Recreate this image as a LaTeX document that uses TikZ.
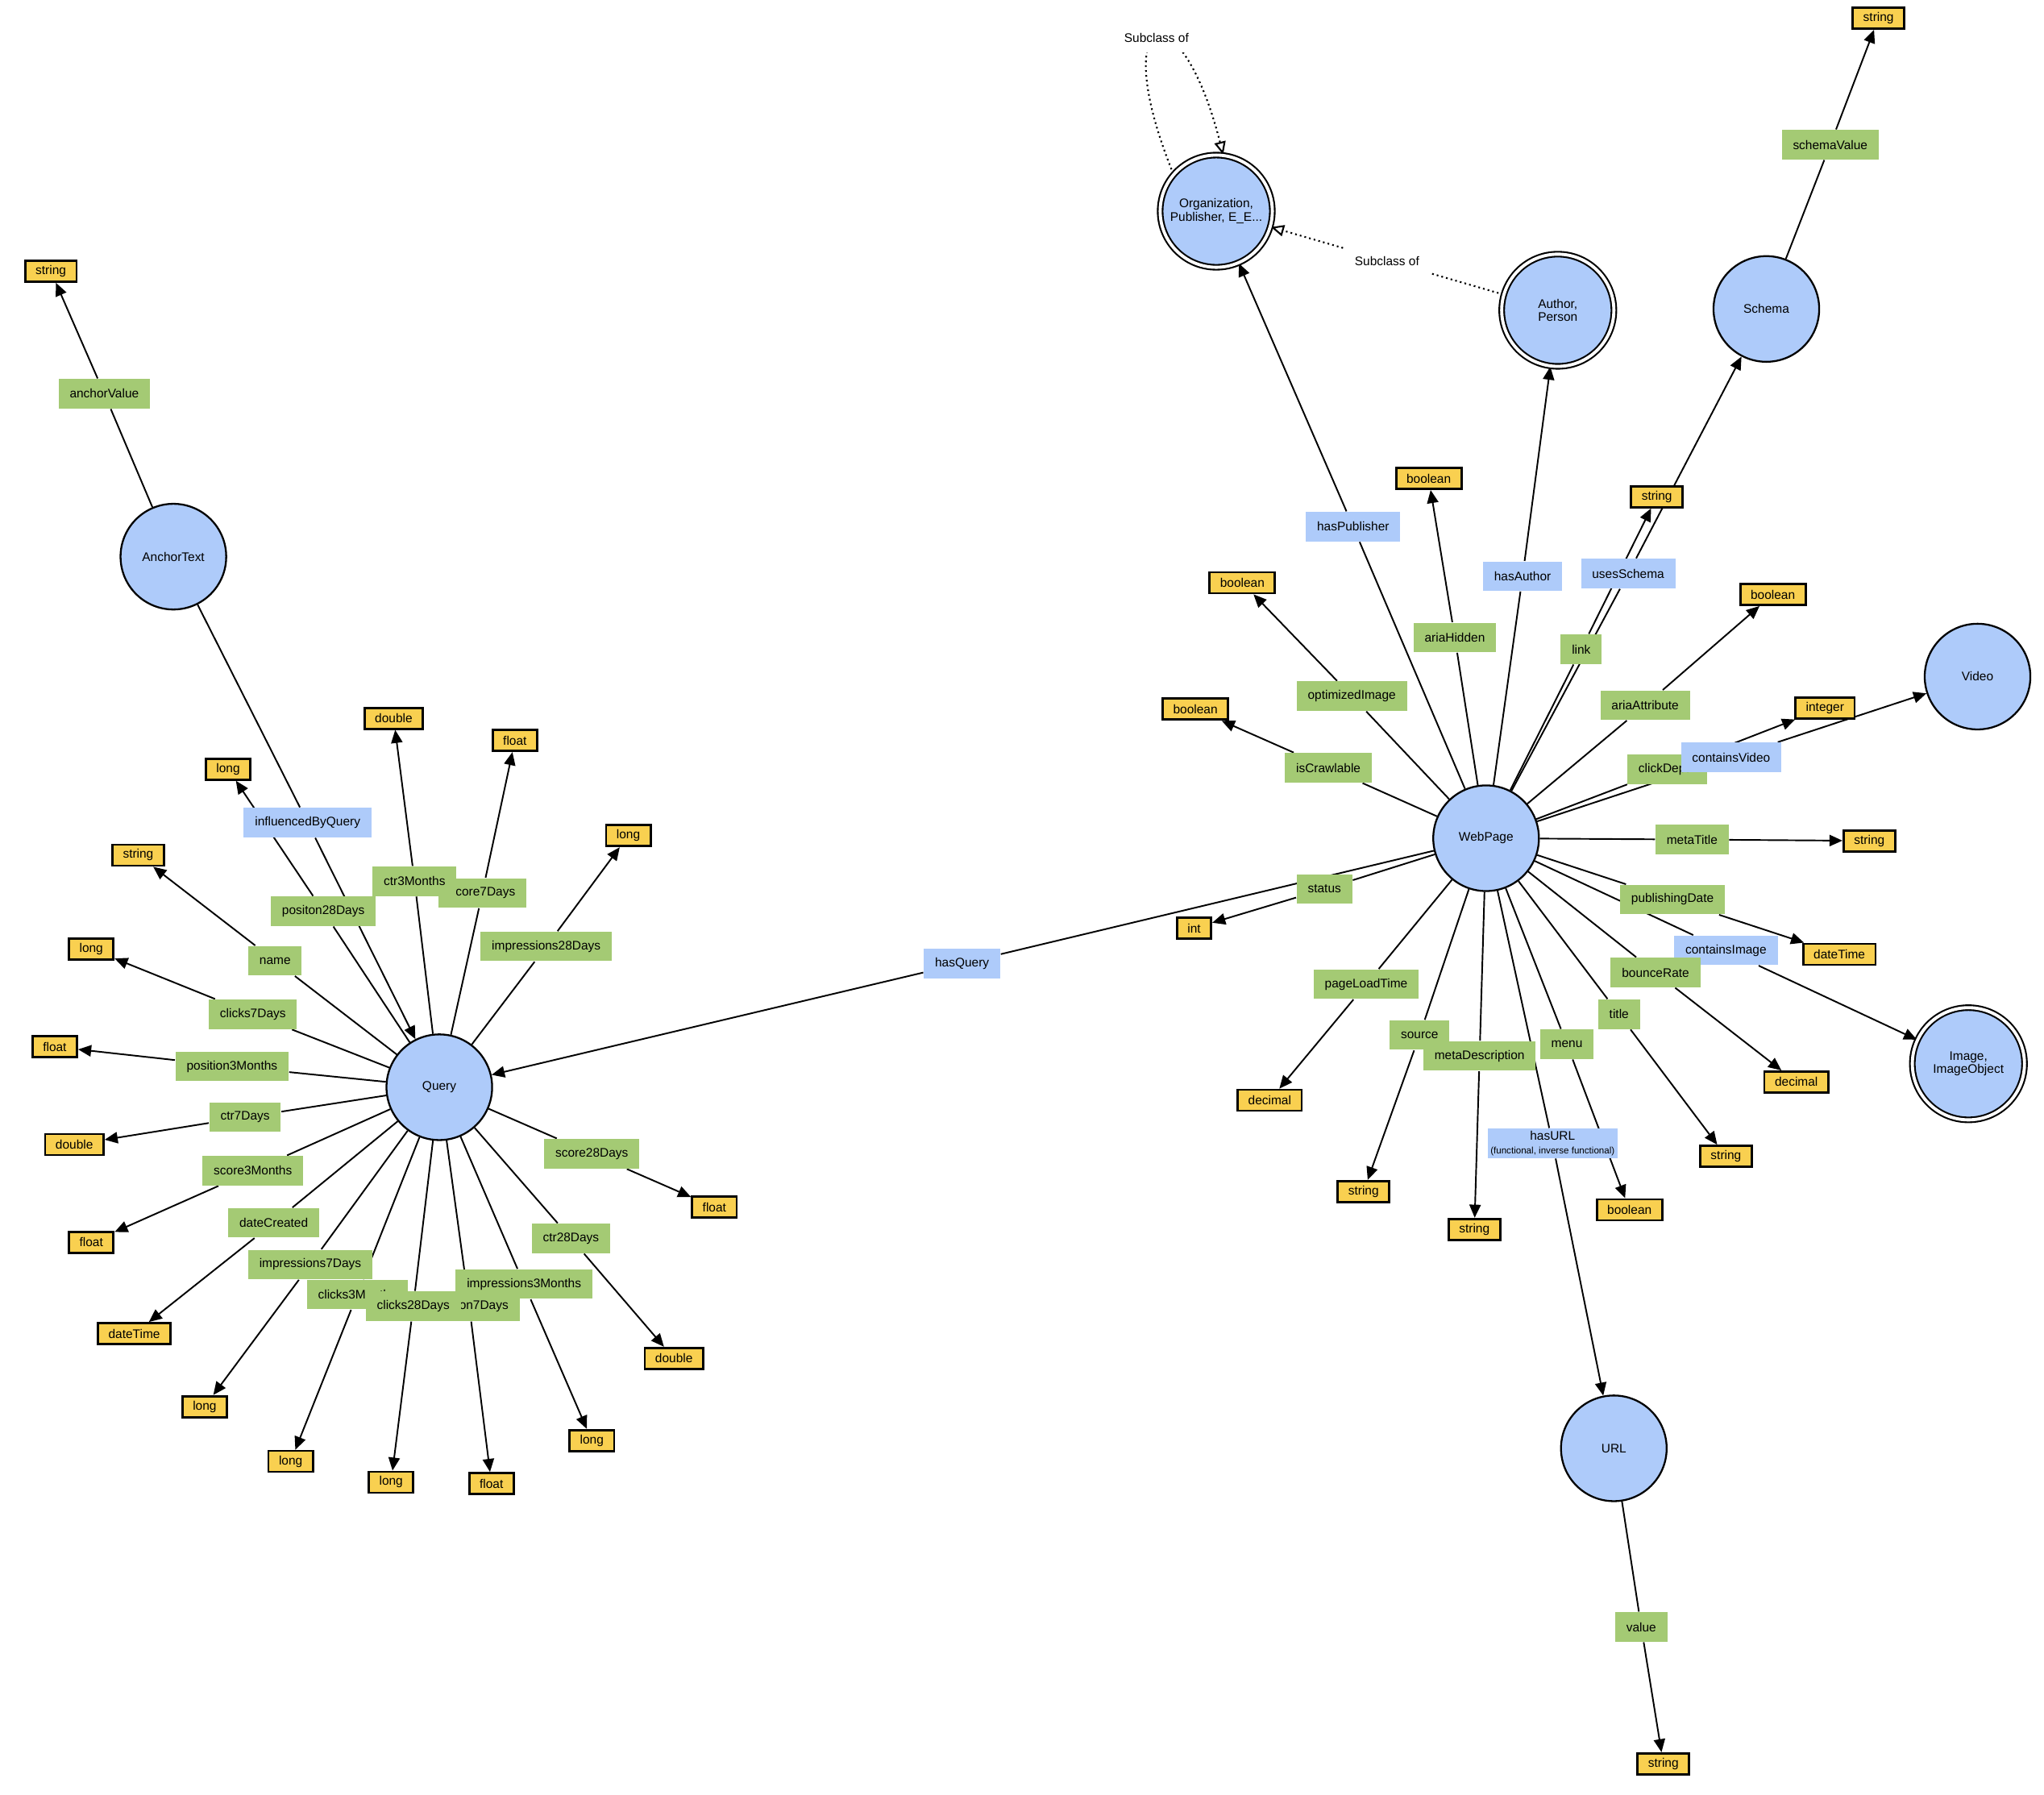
\documentclass[tikz,border=0pt]{standalone}
\usepackage{fontspec}
\setmainfont{Liberation Sans}
\usetikzlibrary{arrows.meta,backgrounds}
\definecolor{cls}{RGB}{174, 203, 250}
\definecolor{dprop}{RGB}{164, 202, 116}
\definecolor{dtype}{RGB}{249, 208, 80}

\tikzset{
  every node/.style={font=\fontsize{4.4}{4.8}\selectfont, align=center},
  classnode/.style={circle, draw=black, line width=0.65pt, fill=cls, minimum size=37.3pt, inner sep=0pt},
  eqclassnode/.style={circle, draw=black, line width=0.6pt, double=white, double distance=1.1pt, fill=cls, minimum size=39.6pt, inner sep=0pt},
  objlabel/.style={fill=cls, minimum height=10.4pt, inner xsep=3.95pt, inner ysep=0pt},
  datalabel/.style={fill=dprop, minimum height=10.4pt, inner xsep=3.95pt, inner ysep=0pt},
  dtbox/.style={draw=black, line width=0.8pt, fill=dtype, minimum height=7.4pt, inner xsep=3.7pt, inner ysep=0pt},
  subclabel/.style={fill=white, minimum height=10.4pt, inner xsep=3.95pt, inner ysep=0pt},
  propedge/.style={line width=0.55pt, -{Triangle[length=4.6pt,width=4pt]}},
  subedge/.style={line width=0.6pt, dash pattern=on 0.6pt off 1.1pt, -{Triangle[open,length=4.6pt,width=4pt]}}
}

\begin{document}
\begin{tikzpicture}[x=0.016173cm, y=-0.016173cm]
  \useasboundingbox (0,0) rectangle (1568,1376.4);

  \node[classnode] (anchortext) at (133,427) {AnchorText};
  \node[classnode] (query) at (337,834) {Query};
  \node[classnode] (webpage) at (1140,643) {WebPage};
  \node[eqclassnode] (org) at (933,162) {Organization,\\Publisher, E\_E...};
  \node[eqclassnode] (author) at (1195,238) {Author,\\Person};
  \node[classnode] (schema) at (1355,237) {Schema};
  \node[classnode] (video) at (1517,519) {Video};
  \node[eqclassnode] (image) at (1510,816) {Image,\\ImageObject};
  \node[classnode] (url) at (1238,1111) {URL};

  \node[dtbox] (tAnchor) at (39,208) {string};
  \node[dtbox] (tSchema) at (1441,14) {string};
  \node[dtbox] (tUrl) at (1276,1353) {string};

  \node[dtbox] (tPos28) at (175,590) {long};
  \node[dtbox] (tName) at (106,656) {string};
  \node[dtbox] (tClk7) at (70,728) {long};
  \node[dtbox] (tPos3m) at (42,803) {float};
  \node[dtbox] (tCtr7) at (57,878) {double};
  \node[dtbox] (tSc3m) at (70,953) {float};
  \node[dtbox] (tDate) at (103,1023) {dateTime};
  \node[dtbox] (tImp7) at (157,1079) {long};
  \node[dtbox] (tClk3m) at (223,1121) {long};
  \node[dtbox] (tClk28) at (300,1137) {long};
  \node[dtbox] (tPos7) at (377,1138) {float};
  \node[dtbox] (tImp3m) at (454,1105) {long};
  \node[dtbox] (tCtr28) at (517,1042) {double};
  \node[dtbox] (tSc28) at (548,926) {float};
  \node[dtbox] (tImp28) at (482,641) {long};
  \node[dtbox] (tCtr3m) at (302,551) {double};
  \node[dtbox] (tSc7) at (395,568) {float};

  \node[dtbox] (tHidden) at (1096,367) {boolean};
  \node[dtbox] (tLink) at (1271,381) {string};
  \node[dtbox] (tOptImg) at (953,447) {boolean};
  \node[dtbox] (tCrawl) at (917,544) {boolean};
  \node[dtbox] (tAria) at (1360,456) {boolean};
  \node[dtbox] (tDepth) at (1400,543) {integer};
  \node[dtbox] (tMetaT) at (1434,645) {string};
  \node[dtbox] (tPub) at (1411,732) {dateTime};
  \node[dtbox] (tBounce) at (1378,830) {decimal};
  \node[dtbox] (tTitle) at (1324,887) {string};
  \node[dtbox] (tMenu) at (1250,928) {boolean};
  \node[dtbox] (tMetaD) at (1131,943) {string};
  \node[dtbox] (tSource) at (1046,914) {string};
  \node[dtbox] (tLoad) at (974,844) {decimal};
  \node[dtbox] (tStatus) at (916,712) {int};

  \node[datalabel] (anchorValue) at (80,302) {anchorValue};
  \node[datalabel] (schemaValue) at (1404,111) {schemaValue};
  \node[datalabel] (value) at (1259,1248) {value};

  \node[datalabel] (pos28) at (248,699) {positon28Days};
  \node[datalabel] (name) at (211,737) {name};
  \node[datalabel] (clk7) at (194,778) {clicks7Days};
  \node[datalabel] (pos3m) at (178,818) {position3Months};
  \node[datalabel] (ctr7) at (188,857) {ctr7Days};
  \node[datalabel] (sc3m) at (194,898) {score3Months};
  \node[datalabel] (date) at (210,938) {dateCreated};
  \node[datalabel] (imp7) at (238,970) {impressions7Days};
  \node[datalabel] (clk3m) at (274,993) {clicks3Months};
  \node[datalabel] (pos7) at (360,1002) {position7Days};
  \node[datalabel] (imp3m) at (402,985) {impressions3Months};
  \node[datalabel] (clk28) at (317,1002) {clicks28Days};
  \node[datalabel] (ctr28) at (438,950) {ctr28Days};
  \node[datalabel] (sc28) at (454,885) {score28Days};
  \node[datalabel] (imp28) at (419,726) {impressions28Days};
  \node[datalabel] (sc7) at (370,685) {score7Days};
  \node[datalabel] (ctr3m) at (318,676) {ctr3Months};

  \node[datalabel] (ariaHidden) at (1116,489) {ariaHidden};
  \node[datalabel] (link) at (1213,498) {link};
  \node[datalabel] (optImg) at (1037,534) {optimizedImage};
  \node[datalabel] (crawl) at (1019,589) {isCrawlable};
  \node[datalabel] (aria) at (1262,541) {ariaAttribute};
  \node[datalabel] (depth) at (1279,590) {clickDepth};
  \node[datalabel] (metaT) at (1298,644) {metaTitle};
  \node[datalabel] (pub) at (1283,690) {publishingDate};
  \node[datalabel] (title) at (1242,778) {title};
  \node[datalabel] (menu) at (1202,801) {menu};
  \node[datalabel] (source) at (1089,794) {source};
  \node[datalabel] (metaD) at (1135,810) {metaDescription};
  \node[datalabel] (load) at (1048,755) {pageLoadTime};
  \node[datalabel] (status) at (1016,682) {status};

  \node[objlabel] (hasPublisher) at (1038,404) {hasPublisher};
  \node[objlabel] (hasAuthor) at (1168,442) {hasAuthor};
  \node[objlabel] (usesSchema) at (1249,440) {usesSchema};
  \node[objlabel] (containsVideo) at (1328,581) {containsVideo};
  \node[objlabel] (containsImage) at (1324,729) {containsImage};
  \node[datalabel] (bounce) at (1270,746) {bounceRate};
  \node[objlabel, inner xsep=1pt] (hasURL) at (1191,877) {hasURL\\{\fontsize{3.3}{3.5}\selectfont (functional, inverse functional)}};
  \node[objlabel] (hasQuery) at (738,739) {hasQuery};
  \node[objlabel] (influencedByQuery) at (236,631) {influencedByQuery};

  \node[subclabel] (sub2) at (1064,200) {Subclass of};

  \begin{scope}[on background layer]
    \draw[propedge] (anchortext) -- (anchorValue) -- (tAnchor);
    \draw[propedge] (schema) -- (schemaValue) -- (tSchema);
    \draw[propedge] (url) -- (value) -- (tUrl);
    \draw[propedge] (anchortext) -- (influencedByQuery) -- (query);

    \draw[propedge] (query) -- (pos28) -- (tPos28);
    \draw[propedge] (query) -- (name) -- (tName);
    \draw[propedge] (query) -- (clk7) -- (tClk7);
    \draw[propedge] (query) -- (pos3m) -- (tPos3m);
    \draw[propedge] (query) -- (ctr7) -- (tCtr7);
    \draw[propedge] (query) -- (sc3m) -- (tSc3m);
    \draw[propedge] (query) -- (date) -- (tDate);
    \draw[propedge] (query) -- (imp7) -- (tImp7);
    \draw[propedge] (query) -- (clk3m) -- (tClk3m);
    \draw[propedge] (query) -- (clk28) -- (tClk28);
    \draw[propedge] (query) -- (pos7) -- (tPos7);
    \draw[propedge] (query) -- (imp3m) -- (tImp3m);
    \draw[propedge] (query) -- (ctr28) -- (tCtr28);
    \draw[propedge] (query) -- (sc28) -- (tSc28);
    \draw[propedge] (query) -- (imp28) -- (tImp28);
    \draw[propedge] (query) -- (ctr3m) -- (tCtr3m);
    \draw[propedge] (query) -- (sc7) -- (tSc7);

    \draw[propedge] (webpage) -- (ariaHidden) -- (tHidden);
    \draw[propedge] (webpage) -- (link) -- (tLink);
    \draw[propedge] (webpage) -- (optImg) -- (tOptImg);
    \draw[propedge] (webpage) -- (crawl) -- (tCrawl);
    \draw[propedge] (webpage) -- (aria) -- (tAria);
    \draw[propedge] (webpage) -- (depth) -- (tDepth);
    \draw[propedge] (webpage) -- (metaT) -- (tMetaT);
    \draw[propedge] (webpage) -- (pub) -- (tPub);
    \draw[propedge] (webpage) -- (bounce) -- (tBounce);
    \draw[propedge] (webpage) -- (title) -- (tTitle);
    \draw[propedge] (webpage) -- (menu) -- (tMenu);
    \draw[propedge] (webpage) -- (metaD) -- (tMetaD);
    \draw[propedge] (webpage) -- (source) -- (tSource);
    \draw[propedge] (webpage) -- (load) -- (tLoad);
    \draw[propedge] (webpage) -- (status) -- (tStatus);

    \draw[propedge] (webpage) -- (hasPublisher) -- (org);
    \draw[propedge] (webpage) -- (hasAuthor) -- (author);
    \draw[propedge] (webpage) -- (usesSchema) -- (schema);
    \draw[propedge] (webpage) -- (containsVideo) -- (video);
    \draw[propedge] (webpage) -- (containsImage) -- (image);
    \draw[propedge] (webpage) -- (hasURL) -- (url);
    \draw[propedge] (webpage) -- (hasQuery) -- (query);

    \draw[subedge] (author) -- (sub2) -- (org);
    \draw[subedge] (org.139) .. controls (848,5) and (905,-12) .. (org.83) node[subclabel, pos=0.5] (sub1) {Subclass of};
  \end{scope}
\end{tikzpicture}
\end{document}
